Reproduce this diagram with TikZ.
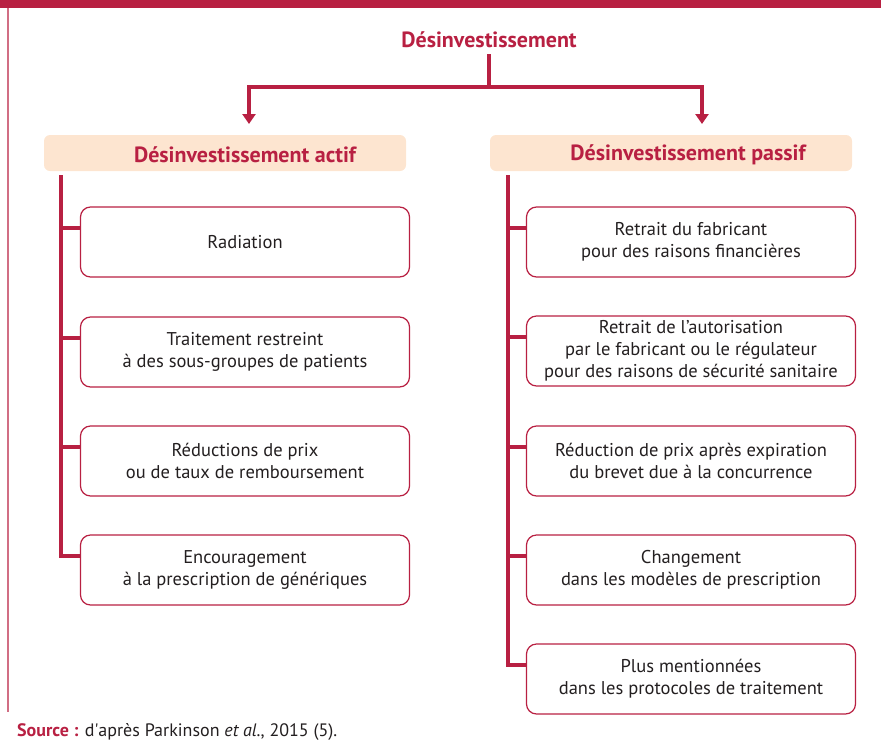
\documentclass[tikz,border=0pt]{standalone}
\usepackage{fontspec}
\setmainfont{PT Sans}
\usetikzlibrary{arrows.meta,positioning}

\definecolor{bordeaux}{RGB}{184,32,66}
\definecolor{peach}{RGB}{253,229,208}
\definecolor{ink}{RGB}{35,31,32}

\begin{document}
\begin{tikzpicture}[x=1pt,y=-1pt,
	box/.style={draw=bordeaux, line width=1.2pt, rounded corners=10pt, minimum width=329pt, minimum height=70pt, inner sep=0pt, align=center, text=ink, font=\fontsize{18.5}{22}\selectfont},
	header/.style={fill=peach, rounded corners=6pt, minimum width=362pt, minimum height=36pt, inner sep=0pt},
	headtext/.style={inner sep=0pt, text=bordeaux, font=\fontsize{22}{24}\selectfont\bfseries},
	rail/.style={draw=bordeaux, line width=4pt},
	arrow/.style={rail, -{Triangle[width=13pt,length=10pt]}}]

	\useasboundingbox (0,0) rectangle (881,742);

	%%FRAME---------------------------------------------
	\fill [bordeaux] (0,0) rectangle (881,8);
	\draw [bordeaux!65, line width=1.5pt] (8,8) -- (8,712);

	%%TOP---------------------------------------------
	\node [headtext] (desinv) at (489,40) {Désinvestissement};
	\coordinate (split) at (489,87);
	\coordinate (tipA) at (249,124);
	\coordinate (tipP) at (702,124);

	\draw [rail] ([yshift=-6pt]desinv.south) -- (split);
	\draw [arrow] (split) -| (tipA);
	\draw [arrow] (split) -| (tipP);

	%%HEADERS---------------------------------------------
	\node [header] (hA) at (225,153) {};
	\node [headtext] (actif) at (245,155) {Désinvestissement actif};
	\node [header] (hP) at (671,153) {};
	\node [headtext] (passif) at (688,155) {Désinvestissement passif};

	%%ACTIVE BOXES---------------------------------------------
	\node [box] (a1) at (245,242) {Radiation};
	\node [box] (a2) at (245,352) {Traitement restreint\\à des sous-groupes de patients};
	\node [box] (a3) at (245,461) {Réductions de prix\\ou de taux de remboursement};
	\node [box] (a4) at (245,570) {Encouragement\\à la prescription de génériques};

	%%PASSIVE BOXES---------------------------------------------
	\node [box] (p1) at (691,242) {Retrait du fabricant\\pour des raisons financières};
	\node [box] (p2) at (691,351) {Retrait de l’autorisation\\par le fabricant ou le régulateur\\pour des raisons de sécurité sanitaire};
	\node [box] (p3) at (691,461) {Réduction de prix après expiration\\du brevet due à la concurrence};
	\node [box] (p4) at (691,570) {Changement\\dans les modèles de prescription};
	\node [box] (p5) at (691,679) {Plus mentionnées\\dans les protocoles de traitement};

	%%RAILS---------------------------------------------
	\coordinate (railA) at (61,175);
	\coordinate (railP) at (508,175);

	%% junctions sit a bit above the middle of each box
	\foreach \n in {1,...,4}
		\coordinate (ja\n) at ([yshift=14pt]a\n.west);
	\foreach \n in {1,...,5}
		\coordinate (jp\n) at ([yshift=14pt]p\n.west);

	\draw [rail] (railA) |- (ja4);
	\foreach \n in {1,2,3}
		\draw [rail] (ja\n) -- (railA |- ja\n);

	\draw [rail] (railP) |- (jp5);
	\foreach \n in {1,2,3,4}
		\draw [rail] (jp\n) -- (railP |- jp\n);

	% Text Node
	\node [anchor=base west, inner sep=0pt, text=ink, font=\fontsize{18}{20}\selectfont] (source) at (17,736)
		{\textcolor{bordeaux}{\bfseries Source :} d\textquotesingle après Parkinson \textit{et al.}, 2015 (5).};

\end{tikzpicture}
\end{document}
